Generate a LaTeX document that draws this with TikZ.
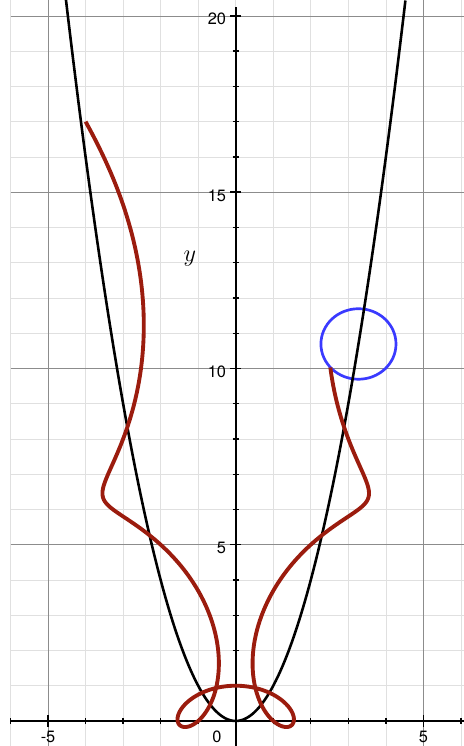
\documentclass[tikz,border=0pt]{standalone}
\usepackage{fontspec}
\setsansfont{TeX Gyre Heros}
\definecolor{tracered}{RGB}{155,28,14}
\definecolor{wheelblue}{RGB}{58,58,255}

\begin{document}
\begin{tikzpicture}[
    x=1.1259cm, y=1.0575cm,
    minor/.style={draw=black!12, line width=0.6pt},
    major/.style={draw=black!45, line width=0.6pt},
    axis/.style={line width=1.5pt},
    tck/.style={line width=1.1pt},
    lbl/.style={font=\sffamily\fontsize{14}{16}\selectfont, inner sep=0pt},
    parab/.style={line width=2.2pt},
    trace/.style={draw=tracered, line width=3.3pt},
    wheel/.style={draw=wheelblue, line width=2.3pt}
]
    \useasboundingbox (-6.28,-0.71) rectangle (6.08,20.45);

    % grid
    \foreach \i in {-6,...,6} \draw[minor] (\i,-0.71) -- (\i,20.45);
    \foreach \j in {1,...,20} \draw[minor] (-6,\j) -- (6.08,\j);
    \foreach \i in {-5,5} \draw[major] (\i,-0.71) -- (\i,20.45);
    \foreach \j in {5,10,15,20} \draw[major] (-6,\j) -- (6.08,\j);

    % axes and ticks
    \coordinate (xl) at (-6,0);
    \coordinate (xr) at (6.08,0);
    \coordinate (yb) at (0,-0.71);
    \coordinate (yt) at (0,20.25);
    \draw[axis] (xl) -- (xr);
    \draw[axis] (yb) -- (yt);
    \foreach \i in {-6,...,6} \draw[tck] (\i,-0.09) -- (\i,0.09);
    \foreach \i in {-5,5} \draw[tck] (\i,-0.17) -- (\i,0.17);
    \foreach \j in {1,...,20} \draw[tck] (-0.08,\j) -- (0.08,\j);
    \foreach \j in {5,10,15,20} \draw[tck] (-0.15,\j) -- (0.15,\j);

    \node[lbl, anchor=base] (xm5) at (-5,-0.62) {-5};
    \node[lbl, anchor=base] (x0) at (-0.5,-0.62) {0};
    \node[lbl, anchor=base] (x5) at (5,-0.62) {5};
    \foreach \j in {5,10,15,20}
        \node[lbl, anchor=east] (y\j) at (-0.25,\j-0.09) {\j};
    \node[font=\fontsize{21}{24}\selectfont, inner sep=0pt] (ylab) at (-1.22,13.12) {$y$};

    % wheel, parabola, traced point
    \coordinate (ctr) at (3.27,{3.27*3.27});
    \draw[wheel] (ctr) ellipse[x radius=1, y radius=1];
    \draw[parab] plot[domain=-4.522:4.522, samples=200, smooth, variable=\x] (\x,{\x*\x});
    \draw[trace] plot[domain=-4:3.27, samples=400, smooth, variable=\t]
        ({\t+sin(180*\t)}, {\t*\t+cos(180*\t)});
\end{tikzpicture}
\end{document}
